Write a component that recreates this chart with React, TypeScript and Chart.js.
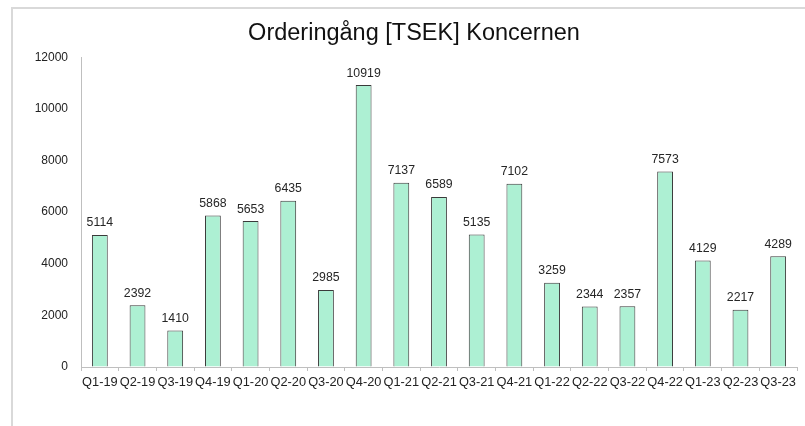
import React, { useEffect, useRef } from "react";
import { Chart, registerables } from "chart.js";

Chart.register(...registerables);

const categories = [
  "Q1-19", "Q2-19", "Q3-19", "Q4-19", "Q1-20", "Q2-20", "Q3-20", "Q4-20",
  "Q1-21", "Q2-21", "Q3-21", "Q4-21", "Q1-22", "Q2-22", "Q3-22", "Q4-22",
  "Q1-23", "Q2-23", "Q3-23",
];
const orderValues = [
  5114, 2392, 1410, 5868, 5653, 6435, 2985, 10919, 7137, 6589, 5135, 7102,
  3259, 2344, 2357, 7573, 4129, 2217, 4289,
];
const yTicks = [0, 2000, 4000, 6000, 8000, 10000, 12000];
const titleText = "Orderingång [TSEK] Koncernen";

const FONT = "'Liberation Sans', Arial, sans-serif";

const dataLabelPlugin = {
  id: "dataLabels",
  afterDatasetsDraw(chart: any) {
    const ctx = chart.ctx;
    const meta = chart.getDatasetMeta(0);
    ctx.save();
    ctx.font = `12.3px ${FONT}`;
    ctx.fillStyle = "#262626";
    ctx.textAlign = "center";
    ctx.textBaseline = "alphabetic";
    meta.data.forEach((bar: any, i: number) => {
      const v = chart.data.datasets[0].data[i];
      ctx.fillText(String(v), bar.x, bar.y - 8.5);
    });
    ctx.restore();
  },
};

export default function App() {
  const ref = useRef<HTMLCanvasElement>(null);
  useEffect(() => {
    if (!ref.current) return;
    const chart = new Chart(ref.current, {
      type: "bar",
      data: {
        labels: categories,
        datasets: [
          {
            data: orderValues,
            backgroundColor: "#adf0d3",
            borderColor: "#3a3a3a",
            borderWidth: 1,
            barPercentage: 0.42,
            categoryPercentage: 1,
          },
        ],
      },
      options: {
        responsive: false,
        animation: false,
        layout: { padding: { left: 31, right: 8, top: 0, bottom: 0 } },
        plugins: {
          legend: { display: false },
          tooltip: { enabled: false },
          title: {
            display: true,
            text: titleText,
            color: "#111111",
            font: { family: FONT, size: 23.5, weight: "normal" },
            padding: { top: 19, bottom: 10 },
          },
        },
        scales: {
          x: {
            grid: {
              drawOnChartArea: false,
              drawTicks: true,
              tickLength: 4,
              color: "#bfbfbf",
              tickColor: "#bfbfbf",
            },
            border: { display: true, color: "#bfbfbf", width: 1 },
            ticks: {
              autoSkip: false,
              maxRotation: 0,
              minRotation: 0,
              padding: 4,
              color: "#222222",
              font: { family: FONT, size: 12.8 },
            },
            afterFit(scale: any) {
              scale.height = 59;
            },
          },
          y: {
            min: 0,
            max: 12000,
            afterBuildTicks(scale: any) {
              scale.ticks = yTicks.map((v) => ({ value: v }));
            },
            grid: {
              drawOnChartArea: false,
              drawTicks: true,
              tickLength: 4,
              tickColor: "rgba(0,0,0,0)",
            },
            border: { display: true, color: "#bfbfbf", width: 1 },
            ticks: {
              padding: 9,
              color: "#222222",
              font: { family: FONT, size: 12 },
              callback: (v: any) => String(v),
            },
            afterFit(scale: any) {
              scale.width = 50;
            },
          },
        },
      },
      plugins: [dataLabelPlugin],
    });
    return () => chart.destroy();
  }, []);

  return (
    <div
      style={{
        position: "fixed",
        left: 0,
        top: 0,
        width: 805,
        height: 426,
        background: "#ffffff",
        overflow: "hidden",
      }}
    >
      <div
        style={{
          position: "absolute",
          left: 11,
          top: 7,
          width: 900,
          height: 600,
          borderLeft: "2px solid #d9d9d9",
          borderTop: "2px solid #d9d9d9",
        }}
      />
      <canvas
        ref={ref}
        width={805}
        height={426}
        style={{ position: "absolute", left: 0, top: 0, width: 805, height: 426 }}
      />
    </div>
  );
}
